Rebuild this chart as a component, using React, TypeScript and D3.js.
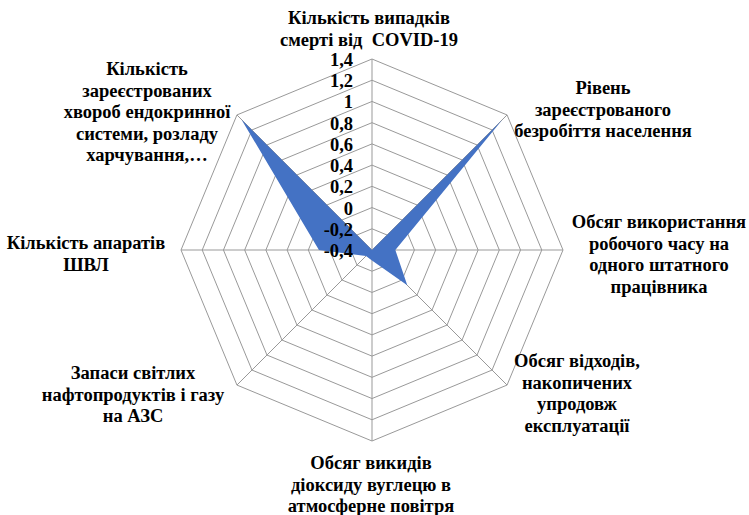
import { useMemo } from 'react'
import * as d3 from 'd3'

// categories (clockwise from top), each label split into lines
const categories = [
  ['Кількість випадків', 'смерті від  COVID-19'],
  ['Рівень', 'зареєстрованого', 'безробіття населення'],
  ['Обсяг використання', 'робочого часу на', 'одного штатного', 'працівника'],
  ['Обсяг відходів,', 'накопичених', 'упродовж', 'експлуатації'],
  ['Обсяг викидів', 'діоксиду вуглецю в', 'атмосферне повітря'],
  ['Запаси світлих', 'нафтопродуктів і газу', 'на АЗС'],
  ['Кількість апаратів', 'ШВЛ'],
  ['Кількість', 'зареєстрованих', 'хвороб ендокринної', 'системи, розладу', 'харчування,…'],
]

const values = [-0.4, 1.34, -0.18, 0.07, -0.3, -0.32, 0.1, 1.34]

const ticks = [-0.4, -0.2, 0, 0.2, 0.4, 0.6, 0.8, 1, 1.2, 1.4]

// where each category label block sits (first line centre)
const labelPos: [number, number][] = [
  [369, 18],
  [603, 88],
  [659, 222],
  [577, 361],
  [371, 463],
  [133, 373],
  [86, 243],
  [147, 69],
]

const W = 749
const H = 515
const cx = 372
const cy = 250
const R = 191
const lineH = 21.5
const font = 'Liberation Serif'
const grid = '#999999'

const fmt = (v: number) => (Math.round(v * 10) / 10).toString().replace('.', ',')

const App = () => {
  const n = categories.length
  const r = d3.scaleLinear().domain([ticks[0], ticks[ticks.length - 1]]).range([0, R])
  const angle = (i: number) => (i * 2 * Math.PI) / n

  const pt = (i: number, rad: number): [number, number] => [
    rad * Math.sin(angle(i)),
    -rad * Math.cos(angle(i)),
  ]

  const area = useMemo(
    () =>
      d3
        .lineRadial<number>()
        .angle((_, i) => angle(i))
        .radius(d => r(d))
        .curve(d3.curveLinearClosed)(values),
    []
  )

  const textStyle = { fontFamily: font, fontWeight: 700, fontSize: '18.5px' }

  return (
    <svg
      width={W}
      height={H}
      style={{ position: 'absolute', left: 0, top: 0, background: '#fff' }}
    >
      <g transform={`translate(${cx},${cy})`}>
        {ticks.slice(1).map(t => (
          <polygon
            key={t}
            points={d3.range(n).map(i => pt(i, r(t)).join(',')).join(' ')}
            fill="none"
            stroke={grid}
            strokeWidth={1}
          />
        ))}
        {d3.range(n).map(i => {
          const [x, y] = pt(i, R)
          return <line key={i} x1={0} y1={0} x2={x} y2={y} stroke={grid} strokeWidth={1} />
        })}
        <path d={area ?? ''} fill="#4472C4" stroke="none" />
        {ticks.map(t => (
          <text
            key={t}
            x={-19}
            y={-r(t) + 1}
            textAnchor="end"
            dominantBaseline="central"
            style={textStyle}
            fill="#000"
          >
            {fmt(t)}
          </text>
        ))}
      </g>
      {categories.map((lines, i) => (
        <text key={i} textAnchor="middle" style={textStyle} fill="#000">
          {lines.map((l, j) => (
            <tspan
              key={j}
              x={labelPos[i][0]}
              y={labelPos[i][1] + j * lineH}
              dominantBaseline="central"
              style={{ whiteSpace: 'pre' }}
            >
              {l}
            </tspan>
          ))}
        </text>
      ))}
    </svg>
  )
}

export default App
